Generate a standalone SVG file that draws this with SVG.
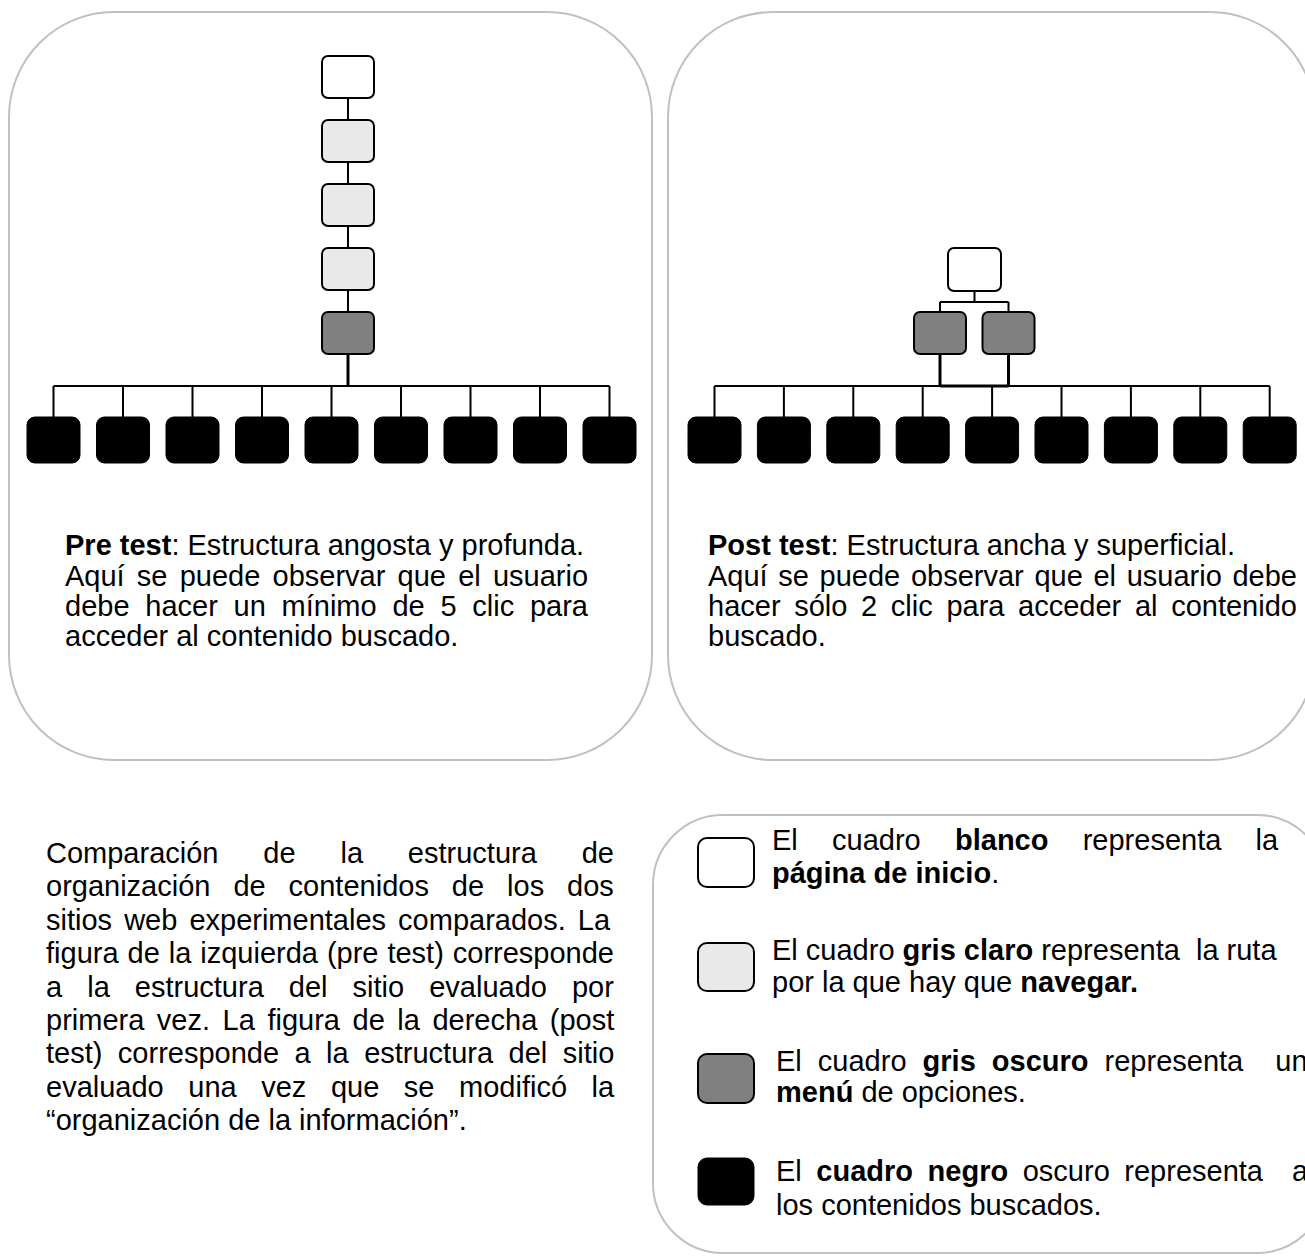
<svg xmlns="http://www.w3.org/2000/svg" width="1305" height="1256" viewBox="0 0 1305 1256">
<style>
.panel{fill:#fff;stroke:#c0c0c0;stroke-width:2}
.home{fill:#fff;stroke:#000;stroke-width:2}
.nav{fill:#e9e9e9;stroke:#000;stroke-width:2}
.menu{fill:#808080;stroke:#000;stroke-width:2}
.cont{fill:#000;stroke:#000;stroke-width:1}
.ln{stroke:#000;stroke-width:2;fill:none}
.tk{stroke:#000;stroke-width:3;fill:none}
text{font-family:"Liberation Sans",Arial,sans-serif;font-size:29px;fill:#000}
.b{font-weight:bold}
</style>
<rect x="0" y="0" width="1305" height="1256" fill="#fff"/>
<g id="panels">
<rect id="panel-pre" class="panel" x="9" y="12" width="643" height="748" rx="105" ry="105"/>
<rect id="panel-post" class="panel" x="668" y="12" width="647" height="748" rx="105" ry="105"/>
<rect id="panel-legend" class="panel" x="653" y="815" width="674" height="438" rx="70" ry="70"/>
</g>
<g id="connectors">
<path class="ln" d="M348 98V120M348 162V184M348 226V248M348 290V312"/>
<path class="tk" d="M348 354V386"/>
<path class="ln" d="M53.5 386H609.5"/>
<path class="ln" d="M53.5 386V417M123 386V417M192.5 386V417M262 386V417M331.5 386V417M401 386V417M470.5 386V417M540 386V417M609.5 386V417"/>
<path class="ln" d="M974.5 291V302M940 302H1008.5M940 302V312M1008.5 302V312"/>
<path class="tk" d="M940 354V386M1008.5 354V386M940 386H1008.5"/>
<path class="ln" d="M714.5 386H1269.7"/>
<path class="ln" d="M714.5 386V417M783.9 386V417M853.3 386V417M922.7 386V417M992.1 386V417M1061.5 386V417M1130.9 386V417M1200.3 386V417M1269.7 386V417"/>
</g>
<g id="pre-home"><rect class="home" x="322" y="56" width="52" height="42" rx="6"/></g>
<g id="pre-nav1"><rect class="nav" x="322" y="120" width="52" height="42" rx="6"/></g>
<g id="pre-nav2"><rect class="nav" x="322" y="184" width="52" height="42" rx="6"/></g>
<g id="pre-nav3"><rect class="nav" x="322" y="248" width="52" height="42" rx="6"/></g>
<g id="pre-menu"><rect class="menu" x="322" y="312" width="52" height="42" rx="6"/></g>
<g id="pre-contents">
<rect class="cont" x="27" y="417" width="53" height="46" rx="8"/>
<rect class="cont" x="96.5" y="417" width="53" height="46" rx="8"/>
<rect class="cont" x="166" y="417" width="53" height="46" rx="8"/>
<rect class="cont" x="235.5" y="417" width="53" height="46" rx="8"/>
<rect class="cont" x="305" y="417" width="53" height="46" rx="8"/>
<rect class="cont" x="374.5" y="417" width="53" height="46" rx="8"/>
<rect class="cont" x="444" y="417" width="53" height="46" rx="8"/>
<rect class="cont" x="513.5" y="417" width="53" height="46" rx="8"/>
<rect class="cont" x="583" y="417" width="53" height="46" rx="8"/>
</g>
<g id="post-home"><rect class="home" x="948" y="248" width="53" height="43" rx="6"/></g>
<g id="post-menu1"><rect class="menu" x="914" y="312" width="52" height="42" rx="6"/></g>
<g id="post-menu2"><rect class="menu" x="982.5" y="312" width="52" height="42" rx="6"/></g>
<g id="post-contents">
<rect class="cont" x="688" y="417" width="53" height="46" rx="8"/>
<rect class="cont" x="757.4" y="417" width="53" height="46" rx="8"/>
<rect class="cont" x="826.8" y="417" width="53" height="46" rx="8"/>
<rect class="cont" x="896.2" y="417" width="53" height="46" rx="8"/>
<rect class="cont" x="965.6" y="417" width="53" height="46" rx="8"/>
<rect class="cont" x="1035" y="417" width="53" height="46" rx="8"/>
<rect class="cont" x="1104.4" y="417" width="53" height="46" rx="8"/>
<rect class="cont" x="1173.8" y="417" width="53" height="46" rx="8"/>
<rect class="cont" x="1243.2" y="417" width="53" height="46" rx="8"/>
</g>
<g id="pre-text">
<text x="65" y="555"><tspan class="b">Pre test</tspan>: Estructura angosta y profunda.</text>
<text x="65" y="585.5" word-spacing="4.15">Aquí se puede observar que el usuario</text>
<text x="65" y="616" word-spacing="7.7">debe hacer un mínimo de 5 clic para</text>
<text x="65" y="646">acceder al contenido buscado.</text>
</g>
<g id="post-text">
<text x="708" y="555"><tspan class="b">Post test</tspan>: Estructura ancha y superficial.</text>
<text x="708" y="585.5" word-spacing="2.6">Aquí se puede observar que el usuario debe</text>
<text x="708" y="616" word-spacing="5.6">hacer sólo 2 clic para acceder al contenido</text>
<text x="708" y="646">buscado.</text>
</g>
<g id="caption">
<text x="46" y="863" word-spacing="36.8">Comparación de la estructura de</text>
<text x="46" y="896.4" word-spacing="14.9">organización de contenidos de los dos</text>
<text x="46" y="929.8" word-spacing="4">sitios web experimentales comparados. La</text>
<text x="46" y="963.2" word-spacing="0.9">figura de la izquierda (pre test) corresponde</text>
<text x="46" y="996.6" word-spacing="17">a la estructura del sitio evaluado por</text>
<text x="46" y="1030" word-spacing="4.5">primera vez. La figura de la derecha (post</text>
<text x="46" y="1063.4" word-spacing="7.4">test) corresponde a la estructura del sitio</text>
<text x="46" y="1096.8" word-spacing="16.5">evaluado una vez que se modificó la</text>
<text x="46" y="1130.2">“organización de la información”.</text>
</g>
<g id="legend-home">
<rect class="home" x="698" y="838" width="56" height="49" rx="9"/>
<text x="772" y="850" word-spacing="26.2">El cuadro <tspan class="b">blanco</tspan> representa la</text>
<text x="772" y="883"><tspan class="b">página de inicio</tspan>.</text>
</g>
<g id="legend-nav">
<rect class="nav" x="698" y="943" width="56" height="48" rx="9"/>
<text x="772" y="960" style="white-space:pre">El cuadro <tspan class="b">gris claro</tspan> representa  la ruta</text>
<text x="772" y="992">por la que hay que <tspan class="b">navegar.</tspan></text>
</g>
<g id="legend-menu">
<rect class="menu" x="698" y="1054" width="56" height="49" rx="9"/>
<text x="776" y="1071" word-spacing="8" style="white-space:pre">El cuadro <tspan class="b">gris oscuro</tspan> representa  un</text>
<text x="776" y="1102"><tspan class="b">menú</tspan> de opciones.</text>
</g>
<g id="legend-content">
<rect class="cont" x="698" y="1158" width="56" height="47" rx="9"/>
<text x="776" y="1181" word-spacing="6.5" style="white-space:pre">El <tspan class="b">cuadro negro</tspan> oscuro representa  a</text>
<text x="776" y="1215">los contenidos buscados.</text>
</g>
</svg>
